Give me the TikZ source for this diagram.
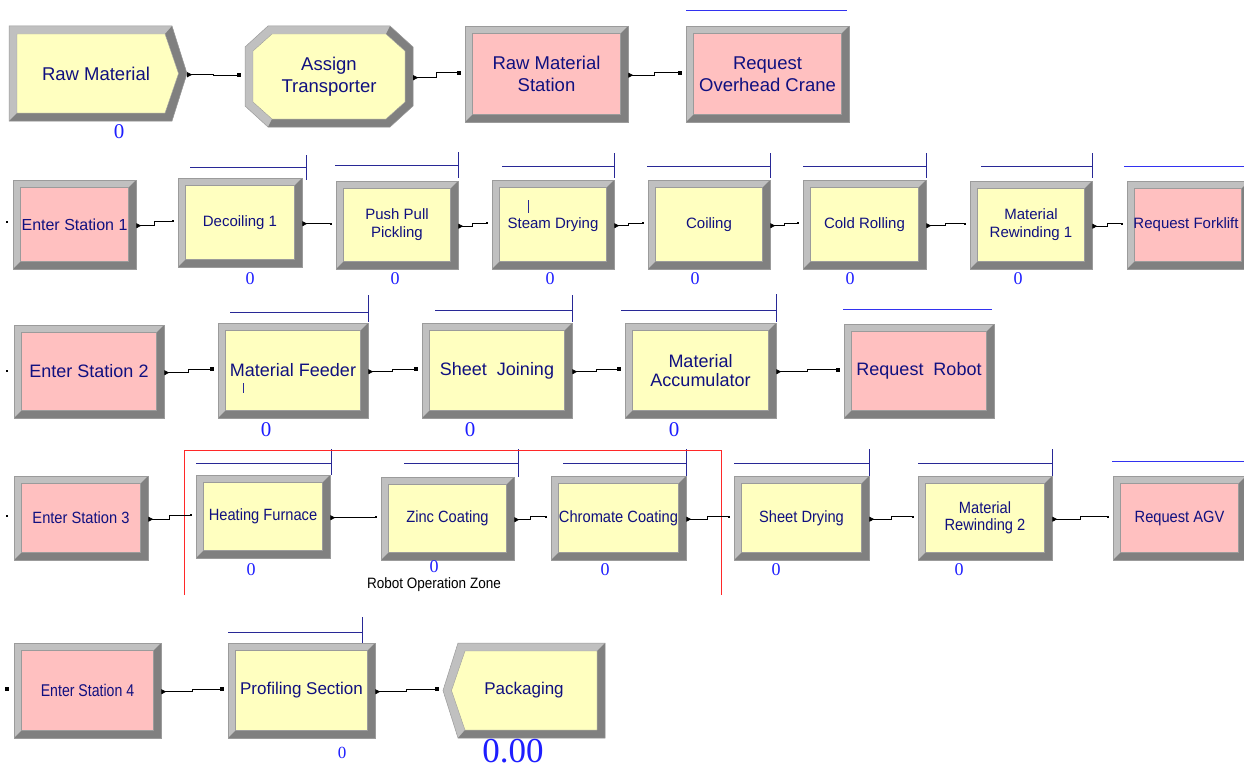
\documentclass[tikz,border=0pt]{standalone}
\usepackage{fontspec}
\setmainfont{Liberation Sans}
\newfontfamily\numfont{Liberation Serif}
\newfontfamily\narrowfont[FakeStretch=0.9]{Liberation Sans}
\newfontfamily\narrowerfont[FakeStretch=0.83]{Liberation Sans}
\usetikzlibrary{arrows.meta,calc}

\definecolor{modyellow}{RGB}{255,255,192}
\definecolor{modpink}{RGB}{255,192,192}
\definecolor{bevlight}{RGB}{192,192,192}
\definecolor{bevdark}{RGB}{128,128,128}
\definecolor{bevedge}{RGB}{155,155,155}
\definecolor{modtext}{RGB}{16,16,128}
\definecolor{qnavy}{RGB}{40,40,150}
\definecolor{qblue}{RGB}{50,50,240}
\definecolor{cntblue}{RGB}{30,30,255}
\definecolor{zonered}{RGB}{255,40,40}

\def\bev{7.5pt}
\newcommand{\rowone}{\fontsize{18.5}{21.5}\selectfont}
\newcommand{\rowtwo}{\fontsize{15}{18}\selectfont}
\newcommand{\rowthree}{\fontsize{18}{19.5}\selectfont}
\newcommand{\rowfour}{\narrowfont\fontsize{16.3}{17.5}\selectfont}
\newcommand{\rowfive}{\fontsize{17}{20}\selectfont}

\tikzset{
  module/.style={rectangle, inner sep=0pt, align=center, text=modtext,
    fill=#1, draw=bevedge, line width=0.5pt,
    path picture={
      \fill[bevlight] (path picture bounding box.south west) rectangle (path picture bounding box.north east);
      \fill[bevdark] (path picture bounding box.south west) -- (path picture bounding box.south east)
        -- (path picture bounding box.north east) -- ([shift={(-\bev,-\bev)}]path picture bounding box.north east)
        -- ([shift={(-\bev,\bev)}]path picture bounding box.south east)
        -- ([shift={(\bev,\bev)}]path picture bounding box.south west) -- cycle;
      \filldraw[fill=#1, draw=bevedge, line width=0.4pt] ([shift={(\bev,\bev)}]path picture bounding box.south west)
        rectangle ([shift={(-\bev,-\bev)}]path picture bounding box.north east);
    }},
  ymod/.style={module=modyellow},
  pmod/.style={module=modpink},
  shapebox/.style={rectangle, inner sep=0pt, align=center, text=modtext},
  cnt/.style={text=cntblue, inner sep=0pt, font=\numfont\fontsize{#1}{#1}\selectfont},
  qline/.style={draw=qnavy, line width=0.9pt},
  rline/.style={draw=qblue, line width=0.9pt},
  conn/.style={draw=black, line width=0.7pt,
    {Triangle[reversed,length=5pt,width=5pt]}-{Square[length=3.5pt,width=3.5pt]}},
  connsmall/.style={draw=black, line width=0.7pt,
    {Triangle[reversed,length=5pt,width=5pt]}-{Square[length=1.6pt,width=1.6pt]}},
  zone/.style={draw=zonered, line width=0.8pt},
}

% connector from the exit point of one module to the entry point of the next
\newcommand{\joinmods}[3][conn]{%
  \draw[#1] ([yshift=-1.2pt]#2.east)
    -| ($([yshift=-1.2pt]#2.east)!0.5!([xshift=-4.5pt,yshift=1.5pt]#3.west)$)
    |- ([xshift=-4.5pt,yshift=1.5pt]#3.west);}

\begin{document}
\begin{tikzpicture}[x=1pt,y=-1pt]
\useasboundingbox (0,0) rectangle (1244,768);
\fill[white] (0,0) rectangle (1244,768);
\clip (0,0) rectangle (1244,768);

% ---------------- row 1 ----------------
% Create module (pentagon)
\fill[bevlight] (9,26) -- (172,26) -- (187,73.5) -- (172,121) -- (9,121) -- cycle;
\fill[bevdark] (172,26) -- (187,73.5) -- (172,121) -- (9,121) -- (17,113) -- (165,113) -- (178.5,73.5) -- (165,34) -- cycle;
\filldraw[fill=modyellow, draw=bevedge, line width=0.4pt] (17,34) -- (165,34) -- (178.5,73.5) -- (165,113) -- (17,113) -- cycle;
\draw[bevedge, line width=0.5pt] (9,26) -- (172,26) -- (187,73.5) -- (172,121) -- (9,121) -- cycle;
\node[shapebox, font=\rowone, minimum width=178pt, minimum height=95pt] (raw) at (98,73.5) {\hspace*{-4pt}Raw Material};

% Assign module (octagon)
\fill[bevlight] (268,26) -- (390,26) -- (413,47) -- (413,106) -- (390,127) -- (268,127) -- (245,106) -- (245,47) -- cycle;
\fill[bevdark] (390,26) -- (413,47) -- (413,106) -- (390,127) -- (268,127) -- (272,119) -- (386,119) -- (405,102) -- (405,51) -- (386,34) -- cycle;
\filldraw[fill=modyellow, draw=bevedge, line width=0.4pt] (272,34) -- (386,34) -- (405,51) -- (405,102) -- (386,119) -- (272,119) -- (253,102) -- (253,51) -- cycle;
\draw[bevedge, line width=0.5pt] (268,26) -- (390,26) -- (413,47) -- (413,106) -- (390,127) -- (268,127) -- (245,106) -- (245,47) -- cycle;
\node[shapebox, font=\rowone, minimum width=168pt, minimum height=101pt] (assign) at (329,76.5) {Assign\\Transporter};

\node[pmod, font=\rowone, minimum width=163pt, minimum height=96pt] (rms) at (546.5,74) {Raw Material\\Station};
\node[pmod, font=\rowone, minimum width=163pt, minimum height=96pt] (roc) at (767.5,74) {Request\\Overhead Crane};
\draw[rline] (686,10) -- (847,10);

\node[cnt=21] (c-raw) at (119,132) {0};

\joinmods{raw}{assign}
\joinmods{assign}{rms}
\joinmods{rms}{roc}

% ---------------- row 2 ----------------
\fill (6.2,221.2) rectangle (7.8,222.8);
\node[pmod, font=\fontsize{16}{18}\selectfont, minimum width=123pt, minimum height=89pt] (es1) at (74.5,224.5) {Enter Station 1};
\node[ymod, font=\rowtwo, minimum width=124pt, minimum height=89pt] (dec1) at (240,222.5) {Decoiling 1};
\node[ymod, font=\rowtwo, minimum width=122pt, minimum height=88pt] (ppp) at (397,225) {Push Pull\\Pickling};
\node[ymod, font=\rowtwo, minimum width=122pt, minimum height=89pt] (steam) at (553,224.5) {Steam Drying};
\node[ymod, font=\rowtwo, minimum width=122pt, minimum height=89pt] (coil) at (709,224.5) {Coiling};
\node[ymod, font=\rowtwo, minimum width=123pt, minimum height=89pt] (cold) at (864.5,224.5) {Cold Rolling};
\node[ymod, font=\rowtwo, minimum width=122pt, minimum height=88pt] (mr1) at (1031,225) {Material\\Rewinding 1};
\node[pmod, font=\rowtwo, minimum width=122pt, minimum height=88pt] (rfl) at (1188,225) {\hspace*{-4pt}Request Forklift};

% queues
\draw[qline] (190,167) -- (306,167) (306,155) -- (306,180);
\draw[qline] (335,165) -- (458,165) (458,152) -- (458,178);
\draw[qline] (502,166) -- (614,166) (614,153) -- (614,178);
\draw[qline] (647,166) -- (770,166) (770,153) -- (770,178);
\draw[qline] (803,166) -- (926,166) (926,153) -- (926,178);
\draw[qline] (981,166) -- (1092,166) (1092,153) -- (1092,178);
\draw[rline] (1124,166) -- (1244,166);
\draw[qline] (528,200) -- (528,213);

\node[cnt=18] (c-dec1) at (250,279) {0};
\node[cnt=18] (c-ppp) at (395,279) {0};
\node[cnt=18] (c-steam) at (550,279) {0};
\node[cnt=18] (c-coil) at (695,279) {0};
\node[cnt=18] (c-cold) at (850,279) {0};
\node[cnt=18] (c-mr1) at (1018,279) {0};

\joinmods[connsmall]{es1}{dec1}
\joinmods[connsmall]{dec1}{ppp}
\joinmods[connsmall]{ppp}{steam}
\joinmods[connsmall]{steam}{coil}
\joinmods[connsmall]{coil}{cold}
\joinmods[connsmall]{cold}{mr1}
\joinmods[connsmall]{mr1}{rfl}

% ---------------- row 3 ----------------
\fill (6,370) rectangle (8.4,372.4);
\node[pmod, font=\rowthree, minimum width=150pt, minimum height=93pt] (es2) at (89,371.5) {Enter Station 2};
\node[ymod, font=\rowthree, minimum width=150pt, minimum height=95pt] (mf) at (293,370.5) {Material Feeder};
\node[ymod, font=\rowthree, minimum width=150pt, minimum height=95pt] (sj) at (497,370.5) {Sheet\ \ Joining};
\node[ymod, font=\rowthree, minimum width=151pt, minimum height=95pt] (ma) at (700.5,370.5) {Material\\Accumulator};
\node[pmod, font=\rowthree, minimum width=150pt, minimum height=94pt] (rr) at (919,371) {Request\ \ Robot};

\draw[qline] (230,312) -- (368,312) (368,295) -- (368,322);
\draw[qline] (435,310) -- (572,310) (572,295) -- (572,322);
\draw[qline] (621,310) -- (776,310) (776,294) -- (776,322);
\draw[rline] (843,309) -- (992,309);
\draw[qline] (243,383) -- (243,393);

\node[cnt=21] (c-mf) at (266,430) {0};
\node[cnt=21] (c-sj) at (470,430) {0};
\node[cnt=21] (c-ma) at (674,430) {0};

\joinmods{es2}{mf}
\joinmods{mf}{sj}
\joinmods{sj}{ma}
\joinmods{ma}{rr}

% ---------------- row 4 ----------------
\fill (6.2,515.2) rectangle (7.8,516.8);
\node[pmod, font=\rowfour, minimum width=134pt, minimum height=84pt] (es3) at (81,518) {Enter Station 3};
\node[ymod, font=\rowfour, minimum width=134pt, minimum height=83pt] (hf) at (263,516.5) {Heating Furnace};
\node[ymod, font=\rowfour, minimum width=133pt, minimum height=83pt] (zc) at (447.5,518.5) {Zinc Coating};
\node[ymod, font=\rowfour, minimum width=135pt, minimum height=84pt] (cc) at (618.5,518) {Chromate Coating};
\node[ymod, font=\rowfour, minimum width=135pt, minimum height=84pt] (sd) at (801.5,518) {Sheet Drying};
\node[ymod, font=\rowfour, minimum width=134pt, minimum height=84pt] (mr2) at (985,518) {Material\\Rewinding 2};
\node[pmod, font=\rowfour, minimum width=133pt, minimum height=84pt] (agv) at (1179.5,518) {Request AGV};

\draw[qline] (196,463) -- (331,463) (331,449) -- (331,475);
\draw[qline] (404,463) -- (518,463) (518,449) -- (518,477);
\draw[qline] (563,463) -- (686,463) (686,449) -- (686,476);
\draw[qline] (734,463) -- (869,463) (869,449) -- (869,476);
\draw[qline] (918,463) -- (1052,463) (1052,449) -- (1052,476);
\draw[rline] (1112,461) -- (1244,461);

% robot operation zone boundary
\draw[zone] (184,595) -- (184,450) -- (721,450) -- (721,595);
\node[inner sep=0pt, font=\narrowfont\fontsize{15}{15}\selectfont] (zonelabel) at (434,585) {Robot Operation Zone};

\node[cnt=18] (c-hf) at (251,570) {0};
\node[cnt=18] (c-zc) at (434,567) {0};
\node[cnt=18] (c-cc) at (605,570) {0};
\node[cnt=18] (c-sd) at (776,570) {0};
\node[cnt=18] (c-mr2) at (959,570) {0};

\joinmods[connsmall]{es3}{hf}
\joinmods[connsmall]{hf}{zc}
\joinmods[connsmall]{zc}{cc}
\joinmods[connsmall]{cc}{sd}
\joinmods[connsmall]{sd}{mr2}
\joinmods[connsmall]{mr2}{agv}

% ---------------- row 5 ----------------
\fill (5,686.5) rectangle (9,690.5);
\node[pmod, font=\narrowerfont\fontsize{17}{20}\selectfont, minimum width=147pt, minimum height=95pt] (es4) at (87.5,690.5) {Enter Station 4};
\node[ymod, font=\rowfive, minimum width=147pt, minimum height=95pt] (ps) at (301.5,690.5) {Profiling Section};
\draw[qline] (228,632) -- (362,632) (362,617) -- (362,643);

% Dispose module (notched on the left)
\fill[bevlight] (458,643) -- (605,643) -- (605,738) -- (458,738) -- (443,690.5) -- cycle;
\fill[bevdark] (605,643) -- (605,738) -- (458,738) -- (465,730) -- (597,730) -- (597,651) -- cycle;
\filldraw[fill=modyellow, draw=bevedge, line width=0.4pt] (465,651) -- (597,651) -- (597,730) -- (465,730) -- (451.5,690.5) -- cycle;
\draw[bevedge, line width=0.5pt] (458,643) -- (605,643) -- (605,738) -- (458,738) -- (443,690.5) -- cycle;
\node[shapebox, font=\rowfive, minimum width=162pt, minimum height=95pt] (pack) at (524,690.5) {Packaging};

\node[cnt=17] (c-ps) at (342,753) {0};
\node[cnt=35] (c-pack) at (513,751) {0.00};

\joinmods{es4}{ps}
\joinmods{ps}{pack}
\end{tikzpicture}
\end{document}
